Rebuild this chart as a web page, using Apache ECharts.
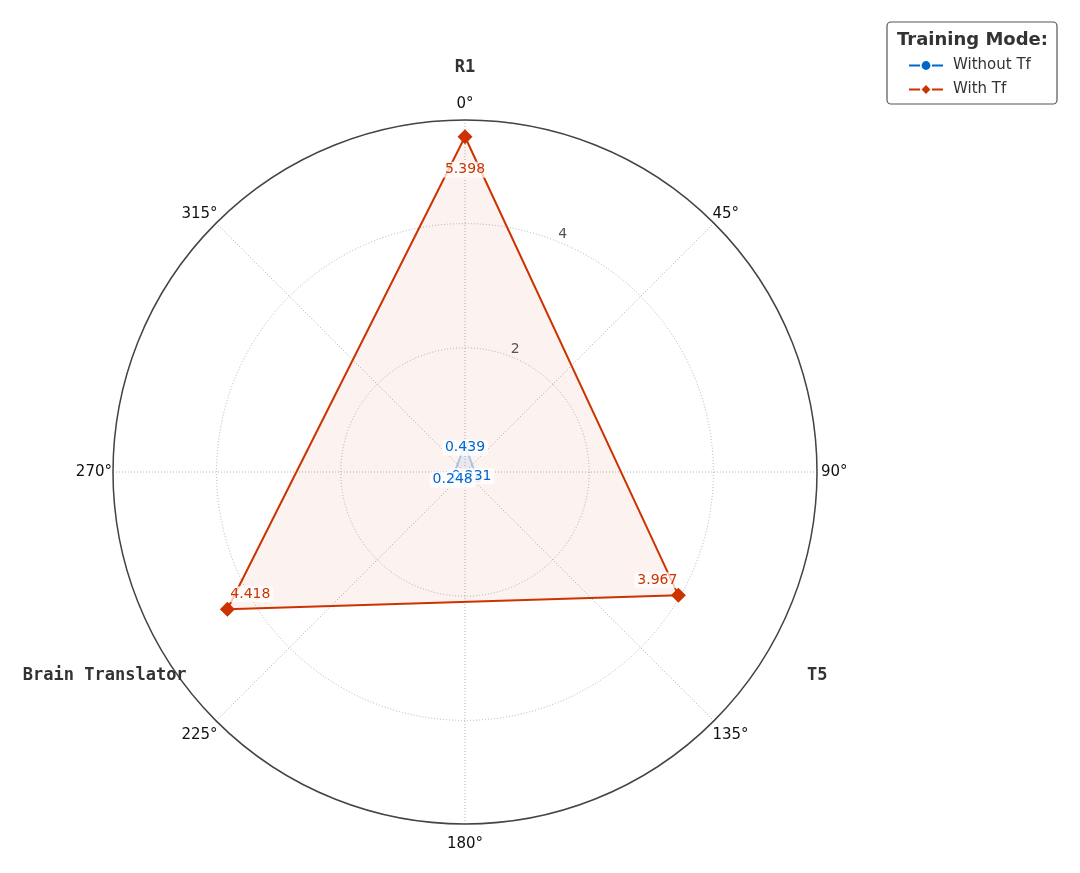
<!DOCTYPE html>
<html>
<head>
<meta charset="utf-8">
<script src="https://cdn.jsdelivr.net/npm/echarts@6/dist/echarts.min.js"></script>
<style>
  body { margin: 0; background: #fff; }
  #chart { width: 1080px; height: 873px; }
</style>
</head>
<body>
<div id="chart"></div>
<script>
// categories and their angles (degrees, clockwise from top)
var categories = ['R1', 'T5', 'Brain Translator'];
var angles = [0, 120, 240];
var withoutTf = [0.439, 0.231, 0.248];
var withTf = [5.398, 3.967, 4.418];
var radiusTicks = [2, 4];
var rMax = 5.668;

var red = '#cc3300';
var blue = '#0066cc';

// closes the polygon by repeating the first point (without marker/label)
function closed(vals, offsets) {
  var d = vals.map(function (v, i) {
    return { value: [v, angles[i]], label: { offset: offsets[i] } };
  });
  d.push({ value: [vals[0], angles[0]], symbol: 'none', label: { show: false } });
  return d;
}

var labelBase = {
  show: true,
  position: 'inside',
  fontFamily: 'DejaVu Sans', fontSize: 14,
  textBorderWidth: 0,
  backgroundColor: 'rgba(255,255,255,0.75)', borderRadius: 3, padding: [1, 3],
  formatter: function (p) { return p.value[0].toFixed(3); }
};

// angle tick label styles, so that they sit centred around the circle like matplotlib
var angFont = { fontFamily: 'DejaVu Sans', fontSize: 15, color: '#111' };
function angStyle(pad) { return Object.assign({ padding: pad }, angFont); }
var angRich = {
  t: angStyle([0, 0, 10, 0]),
  b: angStyle([15, 0, 0, 0]),
  l: angStyle([0, 3, 0, 0]),
  r: angStyle([0, 0, 0, 6]),
  ul: angStyle([0, 0, 3, 0]),
  ur: angStyle([0, 0, 3, 0]),
  dl: angStyle([8, 0, 0, 0]),
  dr: angStyle([8, 0, 0, 0])
};
var angKey = { 0: 't', 45: 'ur', 90: 'r', 135: 'dr', 180: 'b', 225: 'dl', 270: 'l', 315: 'ul' };

var chart = echarts.init(document.getElementById('chart'));
var option = {
  animation: false,
  title: {
    text: 'Training Mode:',
    left: 892, top: 26,
    textStyle: { fontFamily: 'DejaVu Sans', fontSize: 18, fontWeight: 'bold', color: '#333' }
  },
  legend: {
    orient: 'vertical',
    left: 903, top: 53,
    itemGap: 9,
    itemWidth: 34, itemHeight: 11,
    textStyle: { fontFamily: 'DejaVu Sans', fontSize: 15, color: '#333', padding: [0, 0, 0, 5] },
    data: [
      { name: 'Without Tf', itemStyle: { color: blue, opacity: 1 }, lineStyle: { color: blue, opacity: 1, width: 2, type: [11, 12] } },
      { name: 'With Tf', itemStyle: { color: red }, lineStyle: { color: red, width: 2, type: [11, 12] } }
    ]
  },
  graphic: [{
    type: 'rect',
    shape: { x: 887, y: 22, width: 170, height: 82, r: 4 },
    style: { fill: '#fff', stroke: '#555', lineWidth: 1.2 },
    z: -1
  }],
  polar: [
    { center: [465, 472], radius: 352 },
    { center: [465, 472], radius: 352 }
  ],
  angleAxis: [{
    polarIndex: 0,
    type: 'value', min: 0, max: 360, interval: 45,
    startAngle: 90, clockwise: true,
    axisLine: { show: true, lineStyle: { color: '#444', width: 1.5 } },
    axisTick: { show: false },
    axisLabel: {
      margin: -2,
      fontFamily: 'DejaVu Sans', fontSize: 15, color: '#111',
      rich: angRich,
      formatter: function (v) {
        if (v === 360) return '';
        return '{' + angKey[v] + '|' + v + '°}';
      }
    },
    splitLine: { show: true, lineStyle: { color: '#b0b0b0', type: [1, 2], width: 1 } }
  }, {
    polarIndex: 1,
    type: 'value', min: 0, max: 360,
    startAngle: 67.5, clockwise: true,
    show: false
  }],
  radiusAxis: [{
    polarIndex: 0,
    type: 'value', min: 0, max: rMax, interval: 2,
    axisLine: { show: false },
    axisTick: { show: false },
    axisLabel: { show: false },
    splitLine: { show: true, lineStyle: { color: '#b0b0b0', type: [1, 2], width: 1 } }
  }, {
    polarIndex: 1,
    type: 'value', min: 0, max: rMax, interval: 2,
    axisLine: { show: false },
    axisTick: { show: false },
    splitLine: { show: false },
    axisLabel: {
      fontFamily: 'DejaVu Sans', fontSize: 14, color: '#555', margin: 2,
      align: 'left', verticalAlign: 'bottom',
      formatter: function (v) { return radiusTicks.indexOf(v) >= 0 ? String(v) : ''; }
    }
  }],
  series: [{
    name: 'With Tf',
    type: 'line',
    coordinateSystem: 'polar',
    polarIndex: 0,
    symbol: 'diamond', symbolSize: 15,
    lineStyle: { color: red, width: 2 },
    itemStyle: { color: red },
    areaStyle: { color: 'rgba(204,51,0,0.09)' },
    label: Object.assign({}, labelBase, { color: red }),
    data: closed(withTf, [[0, 33], [-21, -15], [23, -15]]),
    z: 3
  }, {
    name: 'Without Tf',
    type: 'line',
    coordinateSystem: 'polar',
    polarIndex: 0,
    symbol: 'circle', symbolSize: 7,
    lineStyle: { color: 'rgba(0,102,204,0.3)', width: 2 },
    itemStyle: { color: 'rgba(0,102,204,0.35)' },
    areaStyle: { color: 'rgba(0,102,204,0.1)' },
    label: Object.assign({}, labelBase, { color: blue, backgroundColor: 'rgba(255,255,255,0.8)' }),
    data: closed(withoutTf, [[0, 3], [-6, -3], [1, 0]]),
    z: 4
  }, {
    name: 'categories',
    type: 'scatter',
    coordinateSystem: 'polar',
    polarIndex: 0,
    clip: false,
    symbolSize: 0,
    silent: true,
    itemStyle: { color: '#333', opacity: 1 },
    label: {
      show: true, position: 'inside',
      fontFamily: 'DejaVu Sans Mono', fontWeight: 'bold', fontSize: 17, color: '#333',
      textBorderWidth: 0,
      formatter: function (p) { return categories[p.dataIndex]; }
    },
    data: angles.map(function (a, i) {
      return { value: [6.55, a], label: { offset: [[0, 2], [0, 0], [-8, 0]][i] } };
    })
  }]
};
chart.setOption(option);
</script>
</body>
</html>
